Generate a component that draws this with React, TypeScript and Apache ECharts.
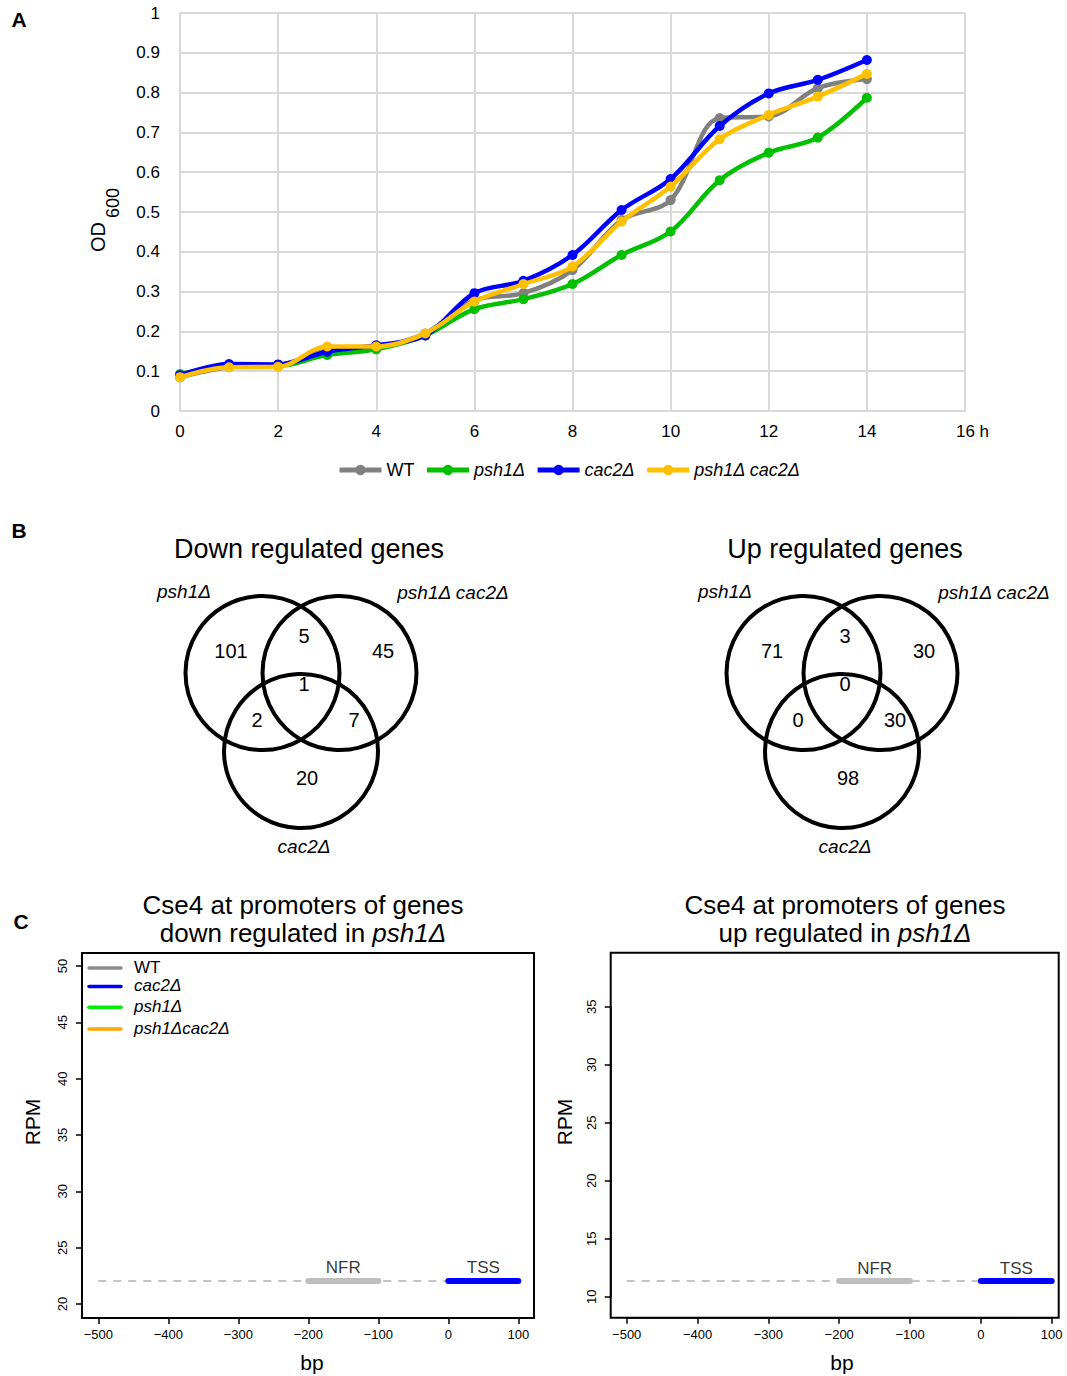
import React, { useEffect, useRef } from "react";
import * as echarts from "echarts";

// ---------- Panel A data ----------
const HOURS = [0, 1, 2, 3, 4, 5, 6, 7, 8, 9, 10, 11, 12, 13, 14];
const WT = [0.085, 0.11, 0.115, 0.152, 0.16, 0.195, 0.278, 0.296, 0.354, 0.48, 0.53, 0.736, 0.74, 0.811, 0.834];
const PSH1 = [0.093, 0.112, 0.113, 0.141, 0.155, 0.19, 0.256, 0.281, 0.319, 0.392, 0.451, 0.58, 0.649, 0.687, 0.787];
const CAC2 = [0.09, 0.118, 0.117, 0.149, 0.165, 0.19, 0.296, 0.327, 0.392, 0.505, 0.583, 0.716, 0.798, 0.832, 0.882];
const DOUBLE = [0.085, 0.11, 0.111, 0.162, 0.162, 0.195, 0.275, 0.319, 0.363, 0.476, 0.564, 0.683, 0.744, 0.79, 0.847];
const A_NAMES = ["WT", "psh1Δ", "cac2Δ", "psh1Δ cac2Δ"];
const A_COLORS = ["#808080", "#00c000", "#0000ff", "#ffc000"];
const A_VALUES = [WT, PSH1, CAC2, DOUBLE];

// ---------- Panel B data ----------
const VENN_TITLES = ["Down regulated genes", "Up regulated genes"];
const VENN_SETS = ["psh1Δ", "psh1Δ cac2Δ", "cac2Δ"];
// order: psh1 only, psh1∩double, double only, all three, psh1∩cac2, double∩cac2, cac2 only
const DOWN_COUNTS = [101, 5, 45, 1, 2, 7, 20];
const UP_COUNTS = [71, 3, 30, 0, 0, 30, 98];

// ---------- Panel C data ----------
const C_TITLE_LINE1 = "Cse4 at promoters of genes";
const C_TITLE_LINE2 = ["down regulated in ", "up regulated in "];
const C_LEGEND = ["WT", "cac2Δ", "psh1Δ", "psh1Δcac2Δ"];
const C_LEGEND_COLORS = ["#8c8c8c", "#0000ff", "#00ee00", "#ffa500"];
const BP_RANGE = [-500, 100];
const LEFT_Y_RANGE = [20, 50];
const RIGHT_Y_RANGE = [10, 35];
const BASELINES = [22.05, 11.35];
const DASH_RANGE = [-500, 0];
const NFR_RANGE = [-200, -100];
const TSS_RANGE = [0, 100];
const REGION_LABELS = [
  { name: "NFR", x: -150 },
  { name: "TSS", x: 50 },
];

const FONT = "Liberation Sans, Arial, Helvetica, sans-serif";

function buildOption() {
  const grids = [
    { left: 180, top: 13, width: 785, height: 398 },
    { left: 98.3, top: 966, width: 420, height: 338 },
    { left: 626.7, top: 1006.7, width: 425, height: 290 },
  ];

  const xAxes: any[] = [
    {
      gridIndex: 0,
      type: "value",
      min: 0,
      max: 16,
      interval: 2,
      axisLine: { show: true, onZero: false, lineStyle: { color: "#d9d9d9", width: 2 } },
      axisTick: { show: false },
      splitLine: { show: true, lineStyle: { color: "#d9d9d9", width: 2 } },
      axisLabel: {
        fontSize: 17,
        color: "#000",
        fontFamily: FONT,
        margin: 12,
        formatter: (v: number) => (v === 16 ? "{h|16 h}" : String(v)),
        rich: { h: { fontSize: 17, color: "#000", fontFamily: FONT, padding: [0, 0, 0, 15] } },
      },
    },
  ];
  const yAxes: any[] = [
    {
      gridIndex: 0,
      type: "value",
      min: 0,
      max: 1,
      interval: 0.1,
      axisLine: { show: true, onZero: false, lineStyle: { color: "#d9d9d9", width: 2 } },
      axisTick: { show: false },
      splitLine: { show: true, lineStyle: { color: "#d9d9d9", width: 2 } },
      axisLabel: {
        fontSize: 17,
        color: "#000",
        fontFamily: FONT,
        margin: 20,
        formatter: (v: number) => String(Math.round(v * 10) / 10),
      },
    },
  ];

  const cYRanges = [LEFT_Y_RANGE, RIGHT_Y_RANGE];
  const xOffsets = [14, 21];
  const yOffsets = [16.3, 16];
  for (let i = 0; i < 2; i++) {
    xAxes.push({
      gridIndex: i + 1,
      type: "value",
      min: BP_RANGE[0],
      max: BP_RANGE[1],
      interval: 100,
      offset: xOffsets[i],
      axisLine: { show: true, onZero: false, lineStyle: { color: "#000", width: 1.5 } },
      axisTick: { show: true, length: 6, lineStyle: { color: "#000", width: 1.5 } },
      splitLine: { show: false },
      axisLabel: {
        fontSize: 13,
        color: "#000",
        fontFamily: FONT,
        margin: 10,
        formatter: (v: number) => (v < 0 ? "\u2212" + Math.abs(v) : String(v)),
      },
    });
    yAxes.push({
      gridIndex: i + 1,
      type: "value",
      min: cYRanges[i][0],
      max: cYRanges[i][1],
      interval: 5,
      offset: yOffsets[i],
      axisLine: { show: true, onZero: false, lineStyle: { color: "#000", width: 1.5 } },
      axisTick: { show: true, length: 6, lineStyle: { color: "#000", width: 1.5 } },
      splitLine: { show: false },
      axisLabel: { fontSize: 13, color: "#000", fontFamily: FONT, margin: 13, rotate: 90 },
    });
  }

  const series: any[] = A_NAMES.map((name, i) => ({
    name,
    type: "line",
    xAxisIndex: 0,
    yAxisIndex: 0,
    smooth: 0.35,
    symbol: "circle",
    symbolSize: 10,
    color: A_COLORS[i],
    lineStyle: { width: 4.5, color: A_COLORS[i] },
    itemStyle: { color: A_COLORS[i] },
    data: HOURS.map((h, j) => [h, A_VALUES[i][j]]),
    z: 2 + i,
  }));

  for (let i = 0; i < 2; i++) {
    const b = BASELINES[i];
    series.push({
      name: "dash" + i,
      type: "line",
      xAxisIndex: i + 1,
      yAxisIndex: i + 1,
      symbol: "none",
      lineStyle: { color: "#c4c4c4", width: 2, type: [8, 7] },
      data: DASH_RANGE.map((x) => [x, b]),
      z: 2,
    });
    series.push({
      name: "nfr" + i,
      type: "line",
      xAxisIndex: i + 1,
      yAxisIndex: i + 1,
      symbol: "none",
      lineStyle: { color: "#bebebe", width: 6, cap: "round" },
      data: NFR_RANGE.map((x) => [x, b]),
      z: 3,
    });
    series.push({
      name: "tss" + i,
      type: "line",
      xAxisIndex: i + 1,
      yAxisIndex: i + 1,
      symbol: "none",
      lineStyle: { color: "#0000ff", width: 6, cap: "round" },
      data: TSS_RANGE.map((x) => [x, b]),
      z: 3,
    });
    series.push({
      name: "lab" + i,
      type: "scatter",
      xAxisIndex: i + 1,
      yAxisIndex: i + 1,
      symbolSize: 1,
      itemStyle: { color: "rgba(0,0,0,0)" },
      label: {
        show: true,
        position: "top",
        distance: 4,
        fontSize: 17,
        color: "#000",
        fontFamily: FONT,
        formatter: (p: any) => p.value[2],
      },
      data: REGION_LABELS.map((r) => [r.x, b, r.name]),
      z: 4,
    });
  }

  // ---------- graphic ----------
  const g: any[] = [];
  const txt = (text: string, x: number, y: number, size: number, extra: any = {}) => ({
    type: "text",
    x,
    y,
    rotation: extra.rotation || 0,
    style: {
      text,
      fontSize: size,
      fontFamily: FONT,
      fill: "#000",
      align: extra.align || "center",
      verticalAlign: "middle",
      fontStyle: extra.italic ? "italic" : "normal",
      fontWeight: extra.bold ? "bold" : "normal",
      rich: extra.rich,
    },
    z: 10,
  });

  // panel letters
  g.push(txt("A", 19, 19, 21, { bold: true }));
  g.push(txt("B", 19, 530, 21, { bold: true }));
  g.push(txt("C", 21, 921, 21, { bold: true }));

  // OD600
  g.push(txt("OD", 98, 237, 20, { rotation: Math.PI / 2 }));
  g.push(txt("600", 113, 203, 18, { rotation: Math.PI / 2 }));

  // Panel B Venns
  const vennOrigins = [
    [301, 673],
    [842, 673],
  ];
  const titleX = [309, 845];
  const circleOffsets = [
    [-38.5, 0],
    [38.5, 0],
    [0, 78],
  ];
  const countOffsets = [
    [-70, -22],
    [3, -37],
    [82, -22],
    [3, 11],
    [-44, 47],
    [53, 47],
    [6, 105],
  ];
  const setLabelOffsets = [
    [-117, -82],
    [152, -81],
    [3, 173],
  ];
  const counts = [DOWN_COUNTS, UP_COUNTS];
  for (let v = 0; v < 2; v++) {
    const [ox, oy] = vennOrigins[v];
    g.push(txt(VENN_TITLES[v], titleX[v], 549, 27));
    circleOffsets.forEach(([dx, dy]) => {
      g.push({
        type: "circle",
        shape: { cx: ox + dx, cy: oy + dy, r: 77 },
        style: { fill: "none", stroke: "#000", lineWidth: 4 },
        z: 5,
      });
    });
    counts[v].forEach((c, k) => {
      g.push(txt(String(c), ox + countOffsets[k][0], oy + countOffsets[k][1], 20));
    });
    VENN_SETS.forEach((s, k) => {
      g.push(txt(s, ox + setLabelOffsets[k][0], oy + setLabelOffsets[k][1], 19, { italic: true }));
    });
  }

  // Panel C titles
  const cTitleX = [303, 845];
  for (let i = 0; i < 2; i++) {
    g.push(txt(C_TITLE_LINE1, cTitleX[i], 905, 26));
    g.push(
      txt("{n|" + C_TITLE_LINE2[i] + "}{i|psh1Δ}", cTitleX[i], 933, 26, {
        rich: {
          n: { fontSize: 26, fontFamily: FONT, fill: "#000" },
          i: { fontSize: 26, fontFamily: FONT, fill: "#000", fontStyle: "italic" },
        },
      })
    );
  }

  // Panel C boxes
  g.push({
    type: "rect",
    shape: { x: 82, y: 953, width: 452, height: 365 },
    style: { fill: "none", stroke: "#000", lineWidth: 2 },
    z: 6,
  });
  g.push({
    type: "rect",
    shape: { x: 610.7, y: 952.7, width: 448, height: 365 },
    style: { fill: "none", stroke: "#000", lineWidth: 2 },
    z: 6,
  });

  // Panel C axis names
  g.push(txt("bp", 312, 1362, 21));
  g.push(txt("bp", 842, 1362, 21));
  g.push(txt("RPM", 32, 1122, 21, { rotation: Math.PI / 2 }));
  g.push(txt("RPM", 564, 1122, 21, { rotation: Math.PI / 2 }));

  // Panel C legend
  const legY = [968, 986.5, 1007.3, 1029];
  C_LEGEND.forEach((name, k) => {
    g.push({
      type: "line",
      shape: { x1: 89, y1: legY[k], x2: 121, y2: legY[k] },
      style: { stroke: C_LEGEND_COLORS[k], lineWidth: 3.5, lineCap: "round" },
      z: 7,
    });
    g.push(txt(name, 134, legY[k] - 1, 17, { align: "left", italic: k > 0 }));
  });

  return {
    animation: false,
    backgroundColor: "#fff",
    grid: grids,
    xAxis: xAxes,
    yAxis: yAxes,
    legend: {
      data: A_NAMES.map((n, i) => ({
        name: n,
        textStyle: { fontStyle: i === 0 ? "normal" : "italic" },
      })),
      left: 332,
      top: 456,
      itemWidth: 42,
      itemHeight: 13,
      itemGap: 10,
      lineStyle: { width: 5 },
      textStyle: { fontSize: 18, color: "#000", fontFamily: FONT },
    },
    series,
    graphic: g,
  };
}

export default function App() {
  const ref = useRef<HTMLDivElement>(null);
  useEffect(() => {
    if (!ref.current) return;
    const chart = echarts.init(ref.current, undefined, { renderer: "svg" });
    chart.setOption(buildOption() as any);
    return () => chart.dispose();
  }, []);
  return (
    <div
      ref={ref}
      style={{ position: "absolute", left: 0, top: 0, width: 1067, height: 1376, background: "#fff" }}
    />
  );
}
